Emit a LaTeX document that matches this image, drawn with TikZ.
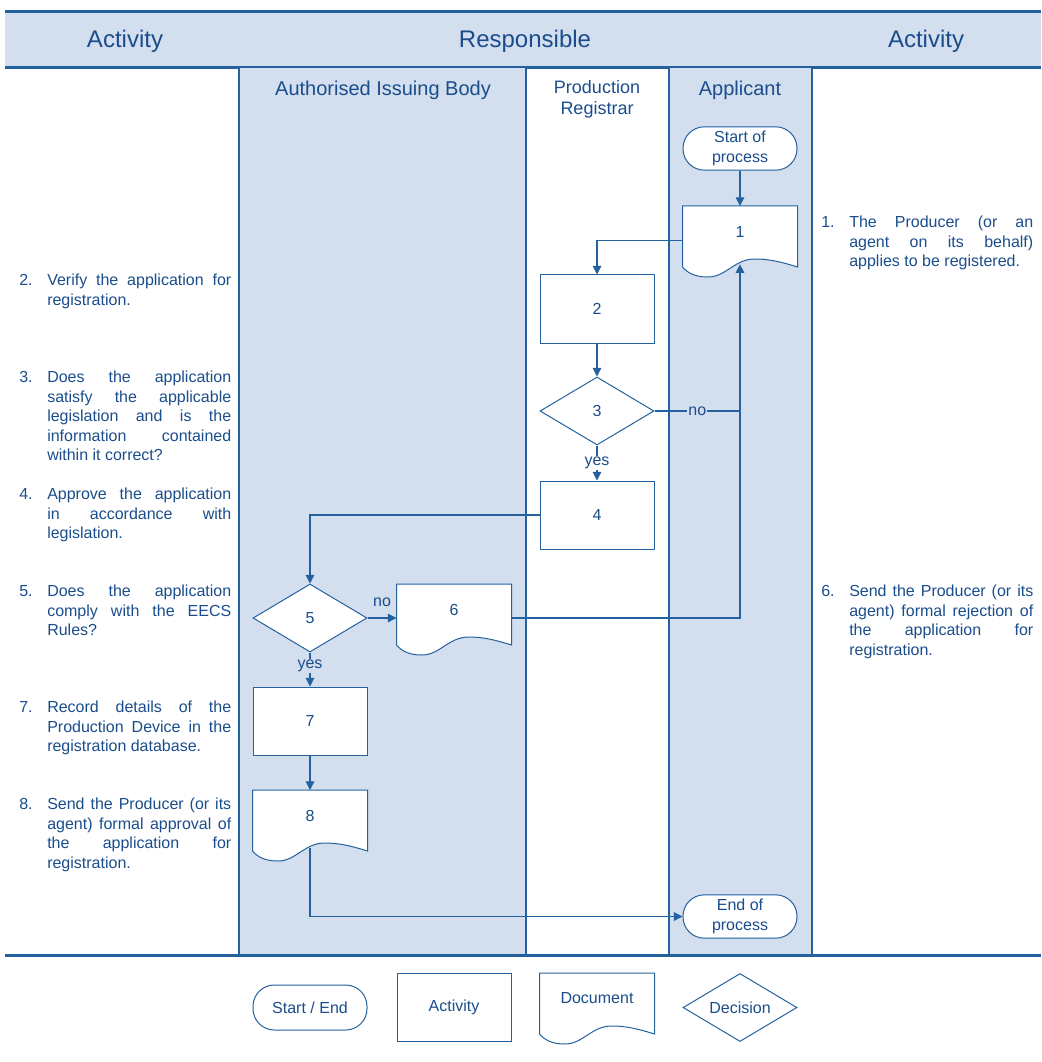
\documentclass[tikz,border=0pt]{standalone}
\usepackage{fontspec}
\setmainfont{Liberation Sans}
\usepackage{tikz}
\usetikzlibrary{shapes.geometric,arrows.meta}

\definecolor{laneblue}{HTML}{D3DEEE}
\definecolor{lineblue}{HTML}{24629F}
\definecolor{inkblue}{HTML}{1A4D8C}

% one justified line of an activity text
\newcommand{\jline}[1]{\makebox[138pt][s]{#1}}

% document symbol: rectangle with a wavy foot
\makeatletter
\pgfdeclareshape{document}{%
  \inheritsavedanchors[from=rectangle]%
  \inheritanchorborder[from=rectangle]%
  \inheritanchor[from=rectangle]{center}%
  \inheritanchor[from=rectangle]{text}%
  \inheritanchor[from=rectangle]{base}%
  \inheritanchor[from=rectangle]{mid}%
  \inheritanchor[from=rectangle]{north}%
  \inheritanchor[from=rectangle]{south}%
  \inheritanchor[from=rectangle]{east}%
  \inheritanchor[from=rectangle]{west}%
  \inheritanchor[from=rectangle]{north east}%
  \inheritanchor[from=rectangle]{north west}%
  \inheritanchor[from=rectangle]{south east}%
  \inheritanchor[from=rectangle]{south west}%
  \backgroundpath{%
    \southwest \pgf@xa=\pgf@x \pgf@ya=\pgf@y
    \northeast \pgf@xb=\pgf@x \pgf@yb=\pgf@y
    \edef\docL{\the\pgf@xa}\edef\docR{\the\pgf@xb}\edef\docT{\the\pgf@yb}%
    \pgf@yc=\pgf@ya \advance\pgf@yc by -7.5pt \edef\docY{\the\pgf@yc}%
    \pgf@xc=\pgf@xb \advance\pgf@xc by -\pgf@xa \edef\docW{\the\pgf@xc}%
    \pgfpathmoveto{\pgfpoint{\docL}{\docT}}%
    \pgfpathlineto{\pgfpoint{\docR}{\docT}}%
    \pgfpathlineto{\pgfpoint{\docR}{\docY}}%
    \pgfpathcurveto{\pgfpoint{\docL+0.85*\docW}{\docY+4pt}}{\pgfpoint{\docL+0.75*\docW}{\docY+6pt}}{\pgfpoint{\docL+0.63*\docW}{\docY+6pt}}%
    \pgfpathcurveto{\pgfpoint{\docL+0.45*\docW}{\docY+6pt}}{\pgfpoint{\docL+0.38*\docW}{\docY-7.5pt}}{\pgfpoint{\docL+0.22*\docW}{\docY-7.5pt}}%
    \pgfpathcurveto{\pgfpoint{\docL+0.1*\docW}{\docY-7.5pt}}{\pgfpoint{\docL+0.04*\docW}{\docY-4pt}}{\pgfpoint{\docL}{\docY}}%
    \pgfpathclose
  }%
}
\makeatother

\begin{document}
\begin{tikzpicture}[x=0.75pt,y=-0.75pt,
    every node/.style={text=inkblue,font=\fontsize{12}{15}\selectfont},
    box/.style={draw=lineblue,fill=white,line width=0.75pt,minimum width=85.5pt,minimum height=51pt,inner sep=1pt,align=center},
    term/.style={box,rounded corners=16pt,minimum height=32.5pt},
    doc/.style={box,shape=document,minimum height=37.5pt},
    dec/.style={box,diamond,aspect=1.7},
    link/.style={draw=lineblue,line width=0.8pt},
    arr/.style={link,-{Triangle[length=6.5pt,width=6.5pt]}},
    lbl/.style={inner sep=1pt},
    note/.style={anchor=north west,inner sep=0pt,align=left,font=\fontsize{12}{14.6}\selectfont},
    lane/.style={draw=lineblue,line width=1.5pt},
    rule/.style={draw=lineblue,line width=2.25pt},
  ]
      \useasboundingbox (0,0) rectangle (1041,1062);

      % header band
      \fill[laneblue] (5,12) rectangle (1041,68);
      \draw[rule] (5,12) -- (1041,12);
      \draw[rule] (5,68) -- (1041,68);
      \node[font=\fontsize{18}{20}\selectfont] (hleft) at (125,41) {Activity};
      \node[font=\fontsize{18}{20}\selectfont] (hmid) at (525,41) {Responsible};
      \node[font=\fontsize{18}{20}\selectfont] (hright) at (926,41) {Activity};

      % swimlanes
      \fill[laneblue] (239,68) rectangle (526,955);
      \fill[laneblue] (669,68) rectangle (812,955);
      \foreach \x in {239,526,669,812}
        \draw[lane] (\x,68) -- (\x,955);
      \draw[rule] (5,955) -- (1041,955);

      \node[font=\fontsize{15}{17}\selectfont] (laib) at (383,90) {Authorised Issuing Body};
      \node[font=\fontsize{13.5}{15.75}\selectfont,align=center] (lreg) at (597,99.5) {Production\\Registrar};
      \node[font=\fontsize{15}{17}\selectfont] (lapp) at (740,90) {Applicant};

      % flow
      \node[term] (st) at (740,148.5) {Start of\\process};
      \node[doc] (d1) at (740,231.5) {1};
      \node[box] (d2) at (597,309) {2};
      \node[dec] (d3) at (597,411) {3};
      \node[box] (d4) at (597,515) {4};
      \node[dec] (d5) at (310,618) {5};
      \node[doc] (d6) at (454,609.5) {6};
      \node[box] (d7) at (310,721) {7};
      \node[doc] (d8) at (310,815.5) {8};
      \node[term] (en) at (740,916.5) {End of\\process};

      \coordinate (d1in) at ([yshift=-5.5pt]d1.south);
      \coordinate (d8out) at ([yshift=-5.5pt]d8.south);

      \draw[arr] (st) -- (d1);
      \draw[arr] ([yshift=-7pt]d1.west) -| (d2);
      \draw[arr] (d2) -- (d3);
      \draw[arr] (d3) -- node[lbl,fill=white] (yes3) {yes} (d4);
      \draw[link] (d3.east) -- node[lbl,fill=laneblue] (no3) {no} (d3 -| d1in);
      \draw[arr] (d4.west) -| (d5);
      \draw[arr] (d5.east) -- node[lbl,above=7pt] (no5) {no} (d5.east -| d6.west);
      \draw[arr] (d5.east -| d6.east) -| (d1in);
      \draw[arr] (d5) -- node[lbl,fill=laneblue,pos=0.4] (yes5) {yes} (d7);
      \draw[arr] (d7) -- (d8);
      \draw[arr] (d8out) |- (en);

      % activities, left column
      \node[note] (num2) at (19,272) {\strut2.};
      \node[note] (act2) at (47,272) {\strut\jline{Verify the application for}\\registration.};
      \node[note] (num3) at (19,369) {\strut3.};
      \node[note] (act3) at (47,369) {\strut\jline{Does the application}\\\jline{satisfy the applicable}\\\jline{legislation and is the}\\\jline{information contained}\\within it correct?};
      \node[note] (num4) at (19,486) {\strut4.};
      \node[note] (act4) at (47,486) {\strut\jline{Approve the application}\\\jline{in accordance with}\\legislation.};
      \node[note] (num5) at (19,583) {\strut5.};
      \node[note] (act5) at (47,583) {\strut\jline{Does the application}\\\jline{comply with the EECS}\\Rules?};
      \node[note] (num7) at (19,699) {\strut7.};
      \node[note] (act7) at (47,699) {\strut\jline{Record details of the}\\\jline{Production Device in the}\\registration database.};
      \node[note] (num8) at (19,796) {\strut8.};
      \node[note] (act8) at (47,796) {\strut\jline{Send the Producer (or its}\\\jline{agent) formal approval of}\\\jline{the application for}\\registration.};

      % activities, right column
      \node[note] (num1) at (821,214) {\strut1.};
      \node[note] (act1) at (849,214) {\strut\jline{The Producer (or an}\\\jline{agent on its behalf)}\\applies to be registered.};
      \node[note] (num6) at (821,583) {\strut6.};
      \node[note] (act6) at (849,583) {\strut\jline{Send the Producer (or its}\\\jline{agent) formal rejection of}\\\jline{the application for}\\registration.};

      % key
      \node[term,minimum height=33.75pt] (kterm) at (310,1007.5) {Start / End};
      \node[box] (kact) at (454,1007.5) {Activity};
      \node[doc] (kdoc) at (597,998.5) {Document};
      \node[dec] (kdec) at (740,1007.5) {Decision};

\end{tikzpicture}
\end{document}
